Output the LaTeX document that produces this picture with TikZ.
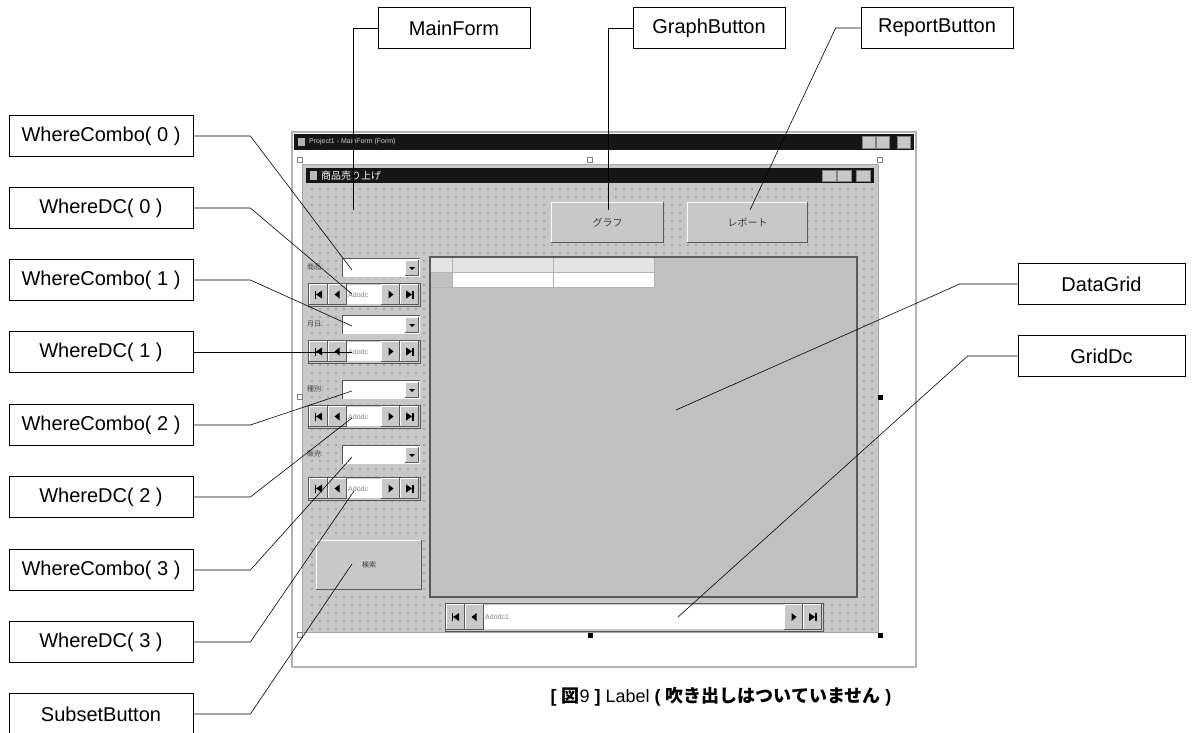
\documentclass[tikz,border=0pt]{standalone}
\usepackage{fontspec}
\setmainfont{Liberation Sans}
\newfontfamily\jpfont{Noto Sans CJK JP}
\usetikzlibrary{patterns.meta}

\definecolor{winbg}{RGB}{200,200,200}
\definecolor{gridbg}{RGB}{192,192,192}
\definecolor{dotc}{RGB}{128,128,128}
\definecolor{titlebar}{RGB}{22,22,22}
\definecolor{btndark}{RGB}{90,90,90}

\newcommand{\lblfont}{\fontsize{20}{24}\selectfont}
\newcommand{\tinyfont}{\fontsize{7}{8}\selectfont}
\newcommand{\btnfont}{\fontsize{10}{12}\selectfont}

\tikzset{
  callout/.style={draw, fill=white, line width=.7pt, inner sep=0pt,
    minimum height=41pt, font=\lblfont},
  leftbox/.style={callout, minimum width=184pt},
  topbox/.style={callout, minimum width=152pt},
  rightbox/.style={callout, minimum width=167pt},
  lead/.style={draw, line width=.6pt},
  hollowhandle/.style={fill=white, draw=gray, line width=.6pt},
  solidhandle/.style={fill=black},
}

% raised windows button
\newcommand{\winbtn}[4]{%
  \fill[winbg] (#1,#2) rectangle (#3,#4);
  \draw[white, line width=1pt] (#1+.5,#4) -- (#1+.5,#2+.5) -- (#3,#2+.5);
  \draw[btndark, line width=1.5pt] (#1,#4-.75) -- (#3-.75,#4-.75) -- (#3-.75,#2);
}
% combo box with drop-down button
\newcommand{\combo}[4]{%
  \fill[white] (#1,#2) rectangle (#3,#4);
  \draw[btndark, line width=1pt] (#1+.5,#4) -- (#1+.5,#2+.5) -- (#3,#2+.5);
  \winbtn{#3-15}{#2+2}{#3-1}{#4-1}
  \fill[black] (#3-11,#2+9) -- (#3-5,#2+9) -- (#3-8,#2+12) -- cycle;
}
% ado data control bar
\newcommand{\adonav}[6]{%
  \pgfmathsetmacro\navcy{(#2+#4)/2}
  \filldraw[fill=winbg, draw=btndark, line width=.8pt] (#1,#2) rectangle (#3,#4);
  \winbtn{#1+1}{#2+1}{#1+20}{#4-1}
  \winbtn{#1+20}{#2+1}{#1+39}{#4-1}
  \winbtn{#3-39}{#2+1}{#3-20}{#4-1}
  \winbtn{#3-20}{#2+1}{#3-1}{#4-1}
  \fill[white] (#1+39,#2+2) rectangle (#3-39,#4-2);
  \node[anchor=west, inner sep=1pt, font=\tinyfont, text=gray] (#6) at (#1+39,\navcy) {#5};
  \fill[black] (#1+6.5,\navcy-4) rectangle (#1+8,\navcy+4);
  \fill[black] (#1+8,\navcy) -- (#1+14,\navcy-4) -- (#1+14,\navcy+4) -- cycle;
  \fill[black] (#1+26.5,\navcy) -- (#1+31.5,\navcy-4) -- (#1+31.5,\navcy+4) -- cycle;
  \fill[black] (#3-26.5,\navcy) -- (#3-31.5,\navcy-4) -- (#3-31.5,\navcy+4) -- cycle;
  \fill[black] (#3-8,\navcy) -- (#3-14,\navcy-4) -- (#3-14,\navcy+4) -- cycle;
  \fill[black] (#3-8,\navcy-4) rectangle (#3-6.5,\navcy+4);
}

\begin{document}
\begin{tikzpicture}[x=1pt, y=-1pt]
  \useasboundingbox (0,0) rectangle (1195,733);
  %-- designer window
  \filldraw[fill=white, draw=gray!60, line width=1.5pt] (292,132) rectangle (916,667);
  \fill[titlebar] (294,134) rectangle (914,150);
  \fill[gray!60] (298,138) rectangle (305,146);
  \node[anchor=west, inner sep=1pt, font=\tinyfont, text=gray!40] (outertitle) at (308,142) {Project1 - MainForm (Form)};
  \foreach \bx in {862,876,897} \filldraw[fill=winbg, draw=gray] (\bx,136) rectangle ++(13,12);
  %-- the form
  \filldraw[fill=winbg, draw=gray!70, line width=1pt] (302,165) rectangle (878,632);
  \fill[titlebar] (306,168) rectangle (874,183);
  \fill[gray!55] (310,171) rectangle (317,180);
  \node[anchor=west, inner sep=1pt, font=\jpfont\btnfont, text=white] (formtitle) at (320,175.5) {商品売り上げ};
  \foreach \bx in {822,837,856} \filldraw[fill=winbg, draw=gray] (\bx,170) rectangle ++(14,11);
  \fill[pattern={Dots[distance=8pt, radius=.9pt]}, pattern color=dotc] (306,184) rectangle (876,630);
  %-- handles
  \foreach \hx/\hy in {300/160,590/160,880/160,300/397,300/635}
    \filldraw[hollowhandle] (\hx-2.5,\hy-2.5) rectangle ++(5,5);
  \foreach \hx/\hy in {880/397,590/635,880/635}
    \fill[solidhandle] (\hx-2.5,\hy-2.5) rectangle ++(5,5);
  %-- command buttons
  \winbtn{551}{202}{664}{243}
  \node[font=\jpfont\btnfont, text=gray!45!black] (graphcap) at (607.5,222.5) {グラフ};
  \winbtn{687}{202}{808}{243}
  \node[font=\jpfont\btnfont, text=gray!45!black] (reportcap) at (747.5,222.5) {レポート};
  \winbtn{316}{540}{422}{590}
  \node[font=\jpfont\tinyfont, text=gray!45!black] (subsetcap) at (369,565) {検索};
  %-- data grid
  \filldraw[fill=gridbg, draw=btndark, line width=1.5pt] (430,257) rectangle (857,597);
  \fill[gray!22] (431,258) rectangle (654,272);
  \fill[white] (452,272) rectangle (654,287);
  \draw[gray!60, line width=.8pt] (452,258) -- (452,287) (553,258) -- (553,287) (654,258) -- (654,287)
    (431,272) -- (654,272) (431,287) -- (654,287);
  \adonav{445}{603}{823}{631}{Adodc1}{navmain}
  %-- where controls
  \foreach \i/\cy/\ny/\lab in {0/258/283/商品:, 1/315/340/月日:, 2/380/405/種別:, 3/445/477/販売:} {
    \node[anchor=west, inner sep=1pt, font=\jpfont\tinyfont, text=gray!55!black] (rowlab\i) at (306,\cy+9) {\lab};
    \combo{342}{\cy}{420}{\cy+19}
    \adonav{308}{\ny}{420}{\ny+23}{Adodc}{nav\i}
  }
  %-- callouts
  \node[topbox] (lblMain) at (454,28) {MainForm};
  \node[topbox] (lblGraph) at (709,28) {GraphButton};
  \node[topbox] (lblReport) at (937,28) {ReportButton};
  \node[rightbox] (lblGrid) at (1101.5,284) {DataGrid};
  \node[rightbox] (lblGridDc) at (1101.5,356) {GridDc};
  \node[leftbox] (lblCombo0) at (101,136) {WhereCombo( 0 )};
  \node[leftbox] (lblDC0) at (101,208) {WhereDC( 0 )};
  \node[leftbox] (lblCombo1) at (101,280) {WhereCombo( 1 )};
  \node[leftbox] (lblDC1) at (101,352) {WhereDC( 1 )};
  \node[leftbox] (lblCombo2) at (101,425) {WhereCombo( 2 )};
  \node[leftbox] (lblDC2) at (101,497) {WhereDC( 2 )};
  \node[leftbox] (lblCombo3) at (101,570) {WhereCombo( 3 )};
  \node[leftbox] (lblDC3) at (101,642) {WhereDC( 3 )};
  \node[leftbox] (lblSubset) at (101,714) {SubsetButton};
  %-- lead ends
  \coordinate (tMain) at (353,210);
  \coordinate (tGraph) at (608,210);
  \coordinate (tReport) at (750,210);
  \coordinate (tGrid) at (676,410);
  \coordinate (tGridDc) at (678,617);
  \coordinate (tCombo0) at (352,270);
  \coordinate (tDC0) at (352,294);
  \coordinate (tCombo1) at (352,326);
  \coordinate (tDC1) at (352,352);
  \coordinate (tCombo2) at (352,391);
  \coordinate (tDC2) at (352,418);
  \coordinate (tCombo3) at (352,457);
  \coordinate (tDC3) at (354,491);
  \coordinate (tSubset) at (352,564);
  %-- leads
  \draw[lead] (lblMain.west) -| (tMain);
  \draw[lead] (lblGraph.west) -| (tGraph);
  \draw[lead] (lblReport.west) -- ++(-25,0) -- (tReport);
  \draw[lead] (lblGrid.west) -- ++(-58,0) -- (tGrid);
  \draw[lead] (lblGridDc.west) -- ++(-50,0) -- (tGridDc);
  \draw[lead] (lblCombo0.east) -- ++(57,0) -- (tCombo0);
  \draw[lead] (lblDC0.east) -- ++(57,0) -- (tDC0);
  \draw[lead] (lblCombo1.east) -- ++(57,0) -- (tCombo1);
  \draw[lead] (lblDC1.east) -- (tDC1);
  \draw[lead] (lblCombo2.east) -- ++(57,0) -- (tCombo2);
  \draw[lead] (lblDC2.east) -- ++(57,0) -- (tDC2);
  \draw[lead] (lblCombo3.east) -- ++(57,0) -- (tCombo3);
  \draw[lead] (lblDC3.east) -- ++(57,0) -- (tDC3);
  \draw[lead] (lblSubset.east) -- ++(57,0) -- (tSubset);
  %-- caption
  \node[font=\fontsize{18}{21}\selectfont] (caption) at (721,697)
    {\bfseries [ {\jpfont 図}\mdseries 9 \bfseries ] \mdseries Label \bfseries ( {\jpfont 吹き出しはついていません} )};
\end{tikzpicture}
\end{document}
